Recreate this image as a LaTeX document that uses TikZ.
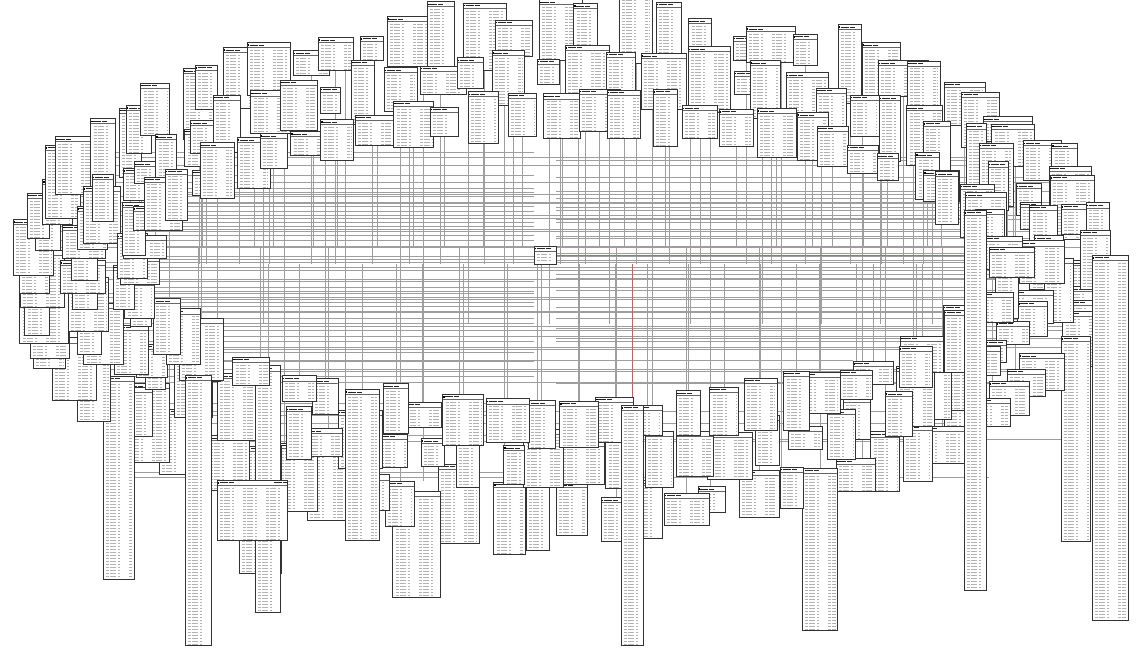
\documentclass[tikz,border=0pt]{standalone}
\usetikzlibrary{calc}
\pgfdeclarelayer{background}
\pgfdeclarelayer{paper}
\pgfsetlayers{paper,background,main}
\tikzset{
  tbl/.style={draw=black!80, line width=0.45pt, fill=white, inner sep=0pt,
    path picture={
      \pgfmathtruncatemacro\rowend{\hh}
      \draw[black!85,line width=0.7pt,dash pattern=on 8pt off 1pt on 5pt off 40pt]
        ([xshift=2.5pt,yshift=-2.6pt]path picture bounding box.north west) -- ([yshift=-2.6pt]path picture bounding box.north east);
      \draw[black!60,line width=0.3pt]
        ([yshift=-5pt]path picture bounding box.north west) -- ([yshift=-5pt]path picture bounding box.north east);
      \foreach \k in {8,11,...,\rowend}{
        \draw[black!30,line width=0.5pt,dash pattern=on 3pt off 1pt on 6pt off 2pt on 2pt off 9pt]
          ([xshift=3pt,yshift=-\k pt]path picture bounding box.north west) -- ([xshift=-2pt,yshift=-\k pt]path picture bounding box.north east);
      }
      \fill[black] ([xshift=0.6pt,yshift=-2pt]path picture bounding box.north west) rectangle ++(1.4pt,-1.4pt);
    }},
  link/.style={draw=black!38, line width=0.3pt},
  rlink/.style={draw=red!55!black!60, line width=0.35pt},
}
\begin{document}
\begin{tikzpicture}[x=1pt,y=-1pt]
\useasboundingbox (0,0) rectangle (1136,653);
\begin{pgfonlayer}{paper}
\fill[white] (0,0) rectangle (1136,653);
\end{pgfonlayer}
\pgfmathsetseed{11}
% outer ring of tables
\foreach \i in {0,...,89}{
  \pgfmathsetmacro\ang{\i*4+rnd*2}
  \pgfmathsetmacro\f{0.97+0.05*rnd}
  \pgfmathsetmacro\x{566+535*\f*cos(\ang)}
  \pgfmathsetmacro\y{268+ifthenelse(sin(\ang)<0,238,248)*\f*sin(\ang)}
  \pgfmathsetmacro\w{22+rnd*28}
  \pgfmathtruncatemacro\tail{and(rnd<0.1,sin(\ang)>0.3)}
  \ifnum\tail=1
    \pgfmathsetmacro\hh{(640-\y+20)*(0.65+0.35*rnd)}
    \node[tbl,anchor=north,minimum width=\w pt,minimum height=\hh pt] (a\i) at (\x,\y-20) {};
  \else
    \pgfmathsetmacro\hh{24+rnd*56}
    \node[tbl,minimum width=\w pt,minimum height=\hh pt] (a\i) at (\x,\y) {};
  \fi
}
% middle ring of tables
\foreach \i in {0,...,79}{
  \pgfmathsetmacro\ang{\i*4.5+1.5+rnd*2}
  \pgfmathsetmacro\f{0.97+0.05*rnd}
  \pgfmathsetmacro\x{566+487*\f*cos(\ang)}
  \pgfmathsetmacro\y{268+196*\f*sin(\ang)}
  \pgfmathsetmacro\w{20+rnd*26}
  \pgfmathsetmacro\hh{22+rnd*46}
  \node[tbl,minimum width=\w pt,minimum height=\hh pt] (m\i) at (\x,\y) {};
}
% inner ring of tables
\foreach \i in {0,...,71}{
  \pgfmathsetmacro\ang{\i*5+2.5+rnd*2}
  \pgfmathsetmacro\f{0.97+0.05*rnd}
  \pgfmathsetmacro\x{566+438*\f*cos(\ang)}
  \pgfmathsetmacro\y{268+156*\f*sin(\ang)}
  \pgfmathsetmacro\w{20+rnd*26}
  \pgfmathtruncatemacro\tail{and(rnd<0.07,sin(\ang)>0.4)}
  \ifnum\tail=1
    \pgfmathsetmacro\hh{(645-\y)*(0.6+0.35*rnd)}
    \node[tbl,anchor=north,minimum width=\w pt,minimum height=\hh pt] (b\i) at (\x,\y-15) {};
  \else
    \pgfmathsetmacro\hh{22+rnd*40}
    \node[tbl,minimum width=\w pt,minimum height=\hh pt] (b\i) at (\x,\y) {};
  \fi
}
% long tables hanging below
\def\hh{270}
\node[tbl,anchor=north,minimum width=26pt,minimum height=270pt] (c1) at (198,375) {};
\def\hh{240}
\node[tbl,anchor=north,minimum width=22pt,minimum height=240pt] (c2) at (632,405) {};
\def\hh{365}
\node[tbl,anchor=north,minimum width=36pt,minimum height=365pt] (c3) at (1110,255) {};
\def\hh{380}
\node[tbl,anchor=north,minimum width=22pt,minimum height=380pt] (c4) at (975,210) {};
\def\hh{60}
\node[tbl,anchor=north,minimum width=70pt,minimum height=60pt] (c5) at (252,480) {};
% hub
\def\hh{16}
\node[tbl,minimum width=22pt,minimum height=18pt] (hub) at (545,255) {};
% connectors
\begin{pgfonlayer}{background}
\foreach \i in {0,...,89}{
  \pgfmathsetmacro\ang{\i*4}
  \pgfmathtruncatemacro\kind{ifthenelse(sin(\ang)<-0.5,1,ifthenelse(cos(\ang)<-0.7,2,ifthenelse(sin(\ang)>0.5,3,0)))}
  \ifcase\kind
    \draw[link] (a\i.west) -- (a\i.west -| hub.east);
  \or
    \pgfmathtruncatemacro\j{mod(90-\i,90)}
    \draw[link] (a\i.south) -- (a\i.south |- hub.south);
    \ifodd\i \draw[link] (a\i.-60) -- (a\i.-60 |- a\j.north); \fi
  \or
    \pgfmathtruncatemacro\j{mod(135-\i,90)}
    \draw[link] (a\i.east) -- (a\i.east -| a\j.west);
    \draw[link] (a\i.20) -- (a\i.20 -| hub.west);
  \or
    \ifodd\i \draw[link] (a\i.north) -- (a\i.north |- hub.north); \fi
  \fi
}
\foreach \i in {0,...,71}{
  \pgfmathsetmacro\ang{\i*5+2.5}
  \pgfmathtruncatemacro\kind{ifthenelse(sin(\ang)<-0.5,1,ifthenelse(cos(\ang)<-0.7,2,ifthenelse(sin(\ang)>0.5,3,0)))}
  \ifcase\kind
    \draw[link] (b\i.west) -- (b\i.west -| hub.east);
  \or
    \draw[link] (b\i.south) -- (b\i.south |- hub.north);
    \ifodd\i \draw[link] (b\i.-120) -- ($(b\i.-120 |- hub.south)+(0,60)$); \fi
  \or
    \pgfmathtruncatemacro\j{mod(108-\i,72)}
    \draw[link] (b\i.east) -- (b\i.east -| b\j.west);
    \draw[link] (b\i.30) -- (b\i.30 -| hub.west);
  \or
    \draw[link] (b\i.north) -- (b\i.north |- hub.south);
  \fi
}
\draw[rlink] (hub.east) -- (hub.east -| c4.west);
\draw[rlink] (c2.north) -- (c2.north |- hub.south);
\end{pgfonlayer}
\end{tikzpicture}
\end{document}
